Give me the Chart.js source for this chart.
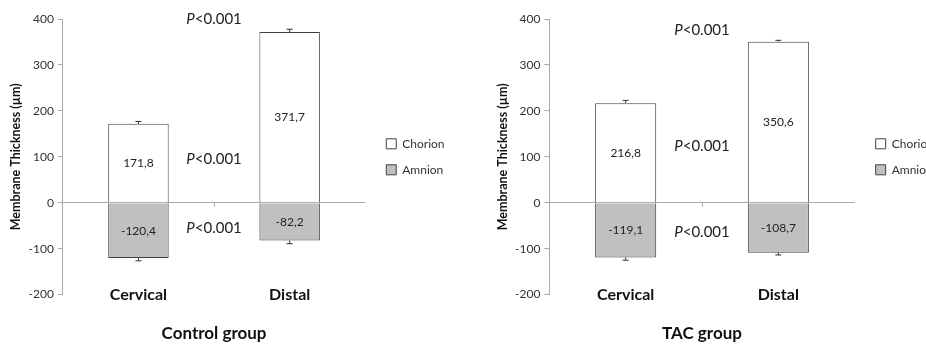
<!DOCTYPE html>
<html>
<head>
<meta charset="utf-8">
<script src="https://cdn.jsdelivr.net/npm/chart.js@4.4.1/dist/chart.umd.min.js"></script>
<style>
body { margin: 0; background: #fff; }
#wrap { position: relative; width: 926px; height: 347px; overflow: hidden; }
.box { position: absolute; top: 0; }
</style>
</head>
<body>
<div id="wrap">
  <div class="box" style="left:0"><canvas id="c1" width="460" height="347"></canvas></div>
  <div class="box" style="left:460px"><canvas id="c2" width="500" height="347"></canvas></div>
</div>
<script>
// data
const categories = ['Cervical', 'Distal'];
const seriesNames = ['Chorion', 'Amnion'];
const yMin = -200, yMax = 400, yStep = 100;

const controlChorion = [171.8, 371.7];
const controlAmnion = [-120.4, -82.2];
const controlChorionErr = [5, 6];
const controlAmnionErr = [6, 7];

const tacChorion = [216.8, 350.6];
const tacAmnion = [-119.1, -108.7];
const tacChorionErr = [6, 3];
const tacAmnionErr = [6, 5];

// where the P values sit (y in axis units), between the two bars
const pLabel = ['P', '<0.001'];
const controlPY = [400, 95, -56];
const tacPY = [376, 123, -63];

const FONT = 'Lato, "Open Sans", sans-serif';
Chart.defaults.font.family = FONT;
Chart.defaults.color = '#222';

function fmt(v) {
  return v.toFixed(1).replace('.', ',');
}

// error bars, value labels, P values, middle tick
const extras = {
  id: 'extras',
  afterDatasetsDraw(chart, args, opts) {
    const ctx = chart.ctx;
    const x = chart.scales.x, y = chart.scales.y;
    ctx.save();

    // small tick between categories on the zero line
    const midX = x.getPixelForValue(0.5);
    const zeroY = y.getPixelForValue(0);
    ctx.strokeStyle = '#aaa';
    ctx.lineWidth = 1;
    ctx.beginPath();
    ctx.moveTo(Math.round(midX) + 0.5, zeroY);
    ctx.lineTo(Math.round(midX) + 0.5, zeroY + 4);
    ctx.stroke();

    chart.data.datasets.forEach((ds, di) => {
      const meta = chart.getDatasetMeta(di);
      meta.data.forEach((bar, i) => {
        const v = ds.data[i];
        const e = ds.err[i];
        // error bar going outward from the bar end
        const yEnd = y.getPixelForValue(v + (v >= 0 ? e : -e));
        ctx.strokeStyle = '#333';
        ctx.beginPath();
        ctx.moveTo(bar.x, bar.y);
        ctx.lineTo(bar.x, yEnd);
        ctx.moveTo(bar.x - 3, yEnd);
        ctx.lineTo(bar.x + 3, yEnd);
        ctx.stroke();

        // value in the middle of the bar
        ctx.fillStyle = '#222';
        ctx.font = '12px ' + FONT;
        ctx.textAlign = 'center';
        ctx.textBaseline = 'middle';
        ctx.fillText(fmt(v), bar.x, (bar.y + bar.base) / 2);
      });
    });

    // P values
    ctx.textBaseline = 'middle';
    ctx.textAlign = 'left';
    opts.pY.forEach(py => {
      const yy = y.getPixelForValue(py);
      ctx.font = 'italic 15px ' + FONT;
      const w1 = ctx.measureText(pLabel[0]).width;
      ctx.font = '15px ' + FONT;
      const w2 = ctx.measureText(pLabel[1]).width;
      const x0 = midX - (w1 + w2) / 2;
      ctx.font = 'italic 15px ' + FONT;
      ctx.fillText(pLabel[0], x0, yy);
      ctx.font = '15px ' + FONT;
      ctx.fillText(pLabel[1], x0 + w1, yy);
    });
    ctx.restore();
  }
};

function makeChart(id, chorion, amnion, chorErr, amnErr, pY, groupTitle, padLeft, padRight) {
  return new Chart(document.getElementById(id), {
    type: 'bar',
    data: {
      labels: categories,
      datasets: [
        {
          label: seriesNames[0], data: chorion, err: chorErr,
          backgroundColor: '#ffffff', borderColor: '#404040', borderWidth: 1,
          barPercentage: 0.4, categoryPercentage: 1
        },
        {
          label: seriesNames[1], data: amnion, err: amnErr,
          backgroundColor: '#c0c0c0', borderColor: '#404040', borderWidth: 1,
          barPercentage: 0.4, categoryPercentage: 1
        }
      ]
    },
    options: {
      responsive: false,
      animation: false,
      devicePixelRatio: 1,
      layout: { padding: { left: padLeft, right: padRight, top: 19, bottom: 0 } },
      plugins: {
        legend: {
          position: 'right',
          fullSize: false,
          labels: {
            boxWidth: 10, boxHeight: 10, padding: 14,
            font: { size: 12 }, color: '#333'
          }
        },
        tooltip: { enabled: false },
        extras: { pY: pY }
      },
      scales: {
        x: {
          stacked: true,
          grid: { display: false, drawTicks: false },
          border: { display: false },
          ticks: { mirror: true, padding: -10, font: { size: 16, weight: 'bold' }, color: '#111' },
          title: {
            display: true, text: groupTitle,
            font: { size: 17, weight: 'bold' }, color: '#111',
            padding: { top: 49, bottom: 3 }
          }
        },
        y: {
          stacked: true,
          min: yMin, max: yMax,
          ticks: { stepSize: yStep, font: { size: 12 }, color: '#333', padding: 4 },
          grid: {
            color: c => (c.tick && c.tick.value === 0) ? '#aaa' : 'rgba(0,0,0,0)',
            tickColor: '#aaa', tickLength: 5
          },
          border: { display: true, color: '#aaa' },
          title: {
            display: true, text: 'Membrane Thickness (µm)',
            font: { size: 12.5, weight: 'bold' }, color: '#111',
            padding: { top: 0, bottom: 1 }
          }
        },
        // empty spacer between plot and legend
        gap: {
          type: 'linear', position: 'right', display: true,
          grid: { display: false }, border: { display: false },
          ticks: { display: false },
          afterFit: s => { s.width = 7; }
        }
      }
    },
    plugins: [extras]
  });
}

makeChart('c1', controlChorion, controlAmnion, controlChorionErr, controlAmnionErr, controlPY, 'Control group', 8.5, 15);
makeChart('c2', tacChorion, tacAmnion, tacChorionErr, tacAmnionErr, tacPY, 'TAC group', 35, 25);
</script>
</body>
</html>
